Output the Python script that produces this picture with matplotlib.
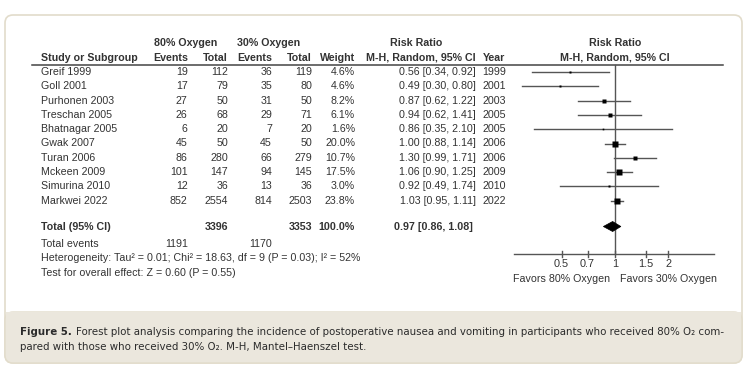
import matplotlib
matplotlib.use("Agg")
import matplotlib.pyplot as plt
import numpy as np
from matplotlib.patches import FancyBboxPatch, Rectangle, Polygon

plt.rcParams['font.family'] = ['Liberation Sans', 'DejaVu Sans']

# ---------------- data ----------------
studies = ["Greif 1999", "Goll 2001", "Purhonen 2003", "Treschan 2005", "Bhatnagar 2005",
           "Gwak 2007", "Turan 2006", "Mckeen 2009", "Simurina 2010", "Markwei 2022"]
events_80 = [19, 17, 27, 26, 6, 45, 86, 101, 12, 852]
total_80 = [112, 79, 50, 68, 20, 50, 280, 147, 36, 2554]
events_30 = [36, 35, 31, 29, 7, 45, 66, 94, 13, 814]
total_30 = [119, 80, 50, 71, 20, 50, 279, 145, 36, 2503]
weights = [4.6, 4.6, 8.2, 6.1, 1.6, 20.0, 10.7, 17.5, 3.0, 23.8]
rr = [0.56, 0.49, 0.87, 0.94, 0.86, 1.00, 1.30, 1.06, 0.92, 1.03]
rr_lo = [0.34, 0.30, 0.62, 0.62, 0.35, 0.88, 0.99, 0.90, 0.49, 0.95]
rr_hi = [0.92, 0.80, 1.22, 1.41, 2.10, 1.14, 1.71, 1.25, 1.74, 1.11]
years = [1999, 2001, 2003, 2005, 2005, 2006, 2006, 2009, 2010, 2022]
pooled = (0.97, 0.86, 1.08)
pooled_total_80, pooled_total_30 = 3396, 3353
pooled_events_80, pooled_events_30 = 1191, 1170
axis_ticks = [0.5, 0.7, 1, 1.5, 2]
axis_ticklabels = ["0.5", "0.7", "1", "1.5", "2"]
heterogeneity = "Heterogeneity: Tau² = 0.01; Chi² = 18.63, df = 9 (P = 0.03); I² = 52%"
overall = "Test for overall effect: Z = 0.60 (P = 0.55)"

W, H = 752, 375
fig = plt.figure(figsize=(W / 100, H / 100), dpi=100)
ax = fig.add_axes([0, 0, 1, 1])
ax.set_xlim(0, W)
ax.set_ylim(H, 0)
ax.axis('off')

# panel
border = '#e2dccb'
panel = FancyBboxPatch((5, 15), 737, 348, boxstyle="round,pad=0,rounding_size=8",
                       fc='white', ec=border, lw=1.2, zorder=0)
ax.add_patch(panel)
band = FancyBboxPatch((5, 312), 737, 51, boxstyle="round,pad=0,rounding_size=8",
                      fc='#ebe7dd', ec=border, lw=1.0, zorder=0.5)
ax.add_patch(band)
ax.add_patch(Rectangle((5.6, 312), 735.8, 10, fc='#ebe7dd', ec='none', zorder=0.6))

txt = '#333333'
fs = 7.65
hdr_kw = dict(fontsize=fs, fontweight='bold', color=txt, va='center')
body_kw = dict(fontsize=fs, color=txt, va='center')

x_name = 40.7
x_e1, x_t1, x_e2, x_t2, x_w = 187.7, 228, 272, 312, 355
x_rr, x_year = 476, 482.7
x_plotc = 615

# header
y_h1, y_h2 = 43, 58
ax.text(186, y_h1, "80% Oxygen", ha='center', **hdr_kw)
ax.text(269, y_h1, "30% Oxygen", ha='center', **hdr_kw)
ax.text(416, y_h1, "Risk Ratio", ha='center', **hdr_kw)
ax.text(x_plotc, y_h1, "Risk Ratio", ha='center', **hdr_kw)
ax.text(x_name, y_h2, "Study or Subgroup", ha='left', **hdr_kw)
ax.text(x_e1, y_h2, "Events", ha='right', **hdr_kw)
ax.text(x_t1, y_h2, "Total", ha='right', **hdr_kw)
ax.text(x_e2, y_h2, "Events", ha='right', **hdr_kw)
ax.text(x_t2, y_h2, "Total", ha='right', **hdr_kw)
ax.text(x_w, y_h2, "Weight", ha='right', **hdr_kw)
ax.text(x_rr, y_h2, "M-H, Random, 95% CI", ha='right', **hdr_kw)
ax.text(x_year, y_h2, "Year", ha='left', **hdr_kw)
ax.text(x_plotc, y_h2, "M-H, Random, 95% CI", ha='center', **hdr_kw)
ax.plot([31.7, 723], [64.5, 64.5], color='#444444', lw=1.1)

# rows
y0, dy = 72, 14.3
row_y = [y0 + dy * i for i in range(len(studies))]
for i, y in enumerate(row_y):
    ax.text(x_name, y, studies[i], ha='left', **body_kw)
    ax.text(x_e1, y, str(events_80[i]), ha='right', **body_kw)
    ax.text(x_t1, y, str(total_80[i]), ha='right', **body_kw)
    ax.text(x_e2, y, str(events_30[i]), ha='right', **body_kw)
    ax.text(x_t2, y, str(total_30[i]), ha='right', **body_kw)
    ax.text(x_w, y, f"{weights[i]:.1f}%", ha='right', **body_kw)
    ax.text(x_rr, y, f"{rr[i]:.2f} [{rr_lo[i]:.2f}, {rr_hi[i]:.2f}]", ha='right', **body_kw)
    ax.text(x_year, y, str(years[i]), ha='left', **body_kw)

y_tot = 226.5
ax.text(x_name, y_tot, "Total (95% CI)", ha='left', **hdr_kw)
ax.text(x_t1, y_tot, str(pooled_total_80), ha='right', **hdr_kw)
ax.text(x_t2, y_tot, str(pooled_total_30), ha='right', **hdr_kw)
ax.text(x_w, y_tot, "100.0%", ha='right', **hdr_kw)
ax.text(473, y_tot, f"{pooled[0]:.2f} [{pooled[1]:.2f}, {pooled[2]:.2f}]", ha='right', **hdr_kw)
y_ev = 244
ax.text(x_name, y_ev, "Total events", ha='left', **body_kw)
ax.text(x_e1, y_ev, str(pooled_events_80), ha='right', **body_kw)
ax.text(x_e2, y_ev, str(pooled_events_30), ha='right', **body_kw)
ax.text(x_name, 258.3, heterogeneity, ha='left', **body_kw)
ax.text(x_name, 272.7, overall, ha='left', **body_kw)

# forest axes (log scale)
fx = fig.add_axes([514.3 / W, 0, 200 / W, 1])
fx.set_xscale('log')
fx.set_xlim(0.27, 3.64)
fx.set_ylim(H, 0)
fx.axis('off')
fx.patch.set_alpha(0)

line_c = '#555555'
y_axis = 254
fx.plot([1, 1], [64.5, y_axis], color=line_c, lw=1.0, zorder=1)
fx.plot([0.27, 3.64], [y_axis, y_axis], color=line_c, lw=1.0, clip_on=False)
for t, lab in zip(axis_ticks, axis_ticklabels):
    fx.plot([t, t], [y_axis - 2.6, y_axis + 2.6], color=line_c, lw=1.0)
    fx.text(t, 264, lab, ha='center', va='center', fontsize=fs + 0.2, color=txt)
fx.text(0.937, 278.5, "Favors 80% Oxygen", ha='right', va='center', fontsize=fs + 0.05, color=txt)
fx.text(1.067, 278.5, "Favors 30% Oxygen", ha='left', va='center', fontsize=fs + 0.05, color=txt)

for i, y in enumerate(row_y):
    fx.plot([rr_lo[i], rr_hi[i]], [y, y], color=line_c, lw=1.0, zorder=2)
    side_px = 1.3 * np.sqrt(weights[i])
    fx.plot([rr[i]], [y], marker='s', ms=side_px * 0.72, color='black', mec='none', zorder=3)

# diamond
dh = 5
fx.add_patch(Polygon([(pooled[1], y_tot), (pooled[0], y_tot - dh), (pooled[2], y_tot),
                      (pooled[0], y_tot + dh)], closed=True, fc='black', ec='black', lw=0.5, zorder=3))

# caption
cap_kw = dict(fontsize=8.17, color='#2b2b2b', va='center', family='DejaVu Sans', fontstretch='condensed')
t1 = ax.text(20, 332, "Figure 5.", ha='left', fontweight='bold', **cap_kw)
fig.canvas.draw()
bb = t1.get_window_extent()
x_after = bb.x1 + 4
ax.text(x_after, 332, "Forest plot analysis comparing the incidence of postoperative nausea and vomiting in "
        "participants who received 80% O₂ com-", ha='left', **cap_kw)
ax.text(20, 346.5, "pared with those who received 30% O₂. M-H, Mantel–Haenszel test.", ha='left', **cap_kw)

fig.savefig("out.png", dpi=100, facecolor='white')
